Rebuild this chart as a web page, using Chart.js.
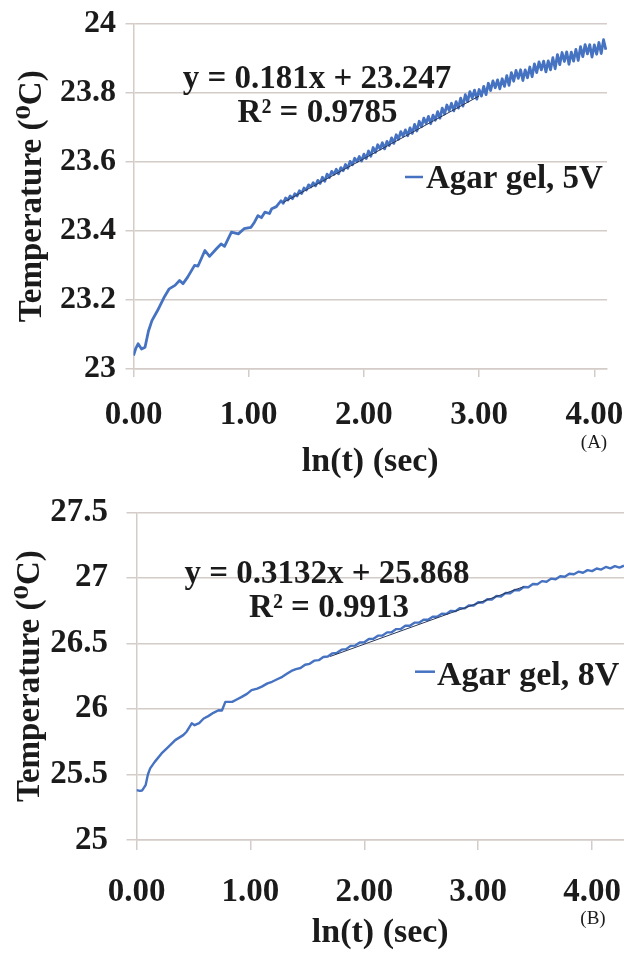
<!DOCTYPE html>
<html>
<head>
<meta charset="utf-8">
<script src="https://cdn.jsdelivr.net/npm/chart.js@4.4.1/dist/chart.umd.min.js"></script>
<style>
html, body { margin: 0; padding: 0; background: #fff; }
#wrap { position: relative; width: 624px; height: 955px; overflow: hidden; }
canvas { position: absolute; left: 0; }
#chartA { top: 0; }
#chartB { top: 490px; }
</style>
</head>
<body>
<div id="wrap">
  <canvas id="chartA" width="624" height="490"></canvas>
  <canvas id="chartB" width="624" height="465"></canvas>
</div>
<script>
// (A) agar gel, 5V : ln(t) vs temperature
const lnTimeA = [
  0.00,0.02,0.04,0.07,0.10,0.13,0.16,0.21,0.27,0.31,0.36,0.40,0.43,0.47,0.53,0.56,
  0.62,0.66,0.72,0.76,0.79,0.85,0.91,0.96,1.02,1.05,1.08,1.11,1.14,1.18,1.20,1.24,
  1.28,1.30,1.32,1.34,1.36,1.38,1.40,1.42,1.44,1.46,
  1.48,1.50,1.52,1.54,1.56,1.58,1.60,1.62,1.64,1.66,
  1.68,1.70,1.72,1.74,1.76,1.78,1.80,1.82,1.84,1.86,
  1.88,1.90,1.92,1.94,1.96,1.98,2.00,2.02,2.04,2.06,
  2.08,2.10,2.12,2.14,2.16,2.18,2.20,2.22,2.24,2.26,
  2.28,2.30,2.32,2.34,2.36,2.38,2.40,2.42,2.44,2.46,
  2.48,2.50,2.52,2.54,2.56,2.58,2.60,2.62,2.64,2.66,
  2.68,2.70,2.72,2.74,2.76,2.78,2.80,2.82,2.84,2.86,
  2.88,2.90,2.92,2.94,2.96,2.98,3.00,3.02,3.04,3.06,
  3.08,3.10,3.12,3.14,3.16,3.18,3.20,3.22,3.24,3.26,
  3.28,3.30,3.32,3.34,3.36,3.38,3.40,3.42,3.44,3.46,
  3.48,3.50,3.52,3.54,3.56,3.58,3.60,3.62,3.64,3.66,
  3.68,3.70,3.72,3.74,3.76,3.78,3.80,3.82,3.84,3.86,
  3.88,3.90,3.92,3.94,3.96,3.98,4.00,4.02,4.04,4.06,
  4.08,4.10
];
const tempA = [
  23.039,23.060,23.073,23.058,23.063,23.110,23.140,23.170,23.210,23.232,23.242,23.256,23.247,23.266,23.300,23.298,
  23.343,23.326,23.348,23.362,23.355,23.396,23.391,23.406,23.410,23.425,23.444,23.438,23.454,23.450,23.464,23.470,
  23.487,23.480,23.495,23.489,23.501,23.493,23.507,23.501,23.516,23.508,
  23.524,23.518,23.533,23.527,23.539,23.530,23.546,23.537,23.555,23.543,
  23.564,23.554,23.572,23.563,23.578,23.565,23.583,23.574,23.592,23.581,
  23.601,23.591,23.610,23.600,23.615,23.602,23.622,23.609,23.631,23.616,
  23.641,23.627,23.649,23.637,23.655,23.637,23.659,23.647,23.669,23.653,
  23.678,23.665,23.687,23.674,23.692,23.675,23.698,23.682,23.708,23.689,
  23.717,23.701,23.726,23.711,23.731,23.710,23.735,23.720,23.745,23.726,
  23.755,23.738,23.764,23.748,23.769,23.747,23.774,23.755,23.784,23.761,
  23.794,23.774,23.803,23.784,23.807,23.781,23.809,23.790,23.818,23.794,
  23.827,23.806,23.834,23.814,23.837,23.811,23.840,23.818,23.849,23.821,
  23.858,23.833,23.864,23.841,23.866,23.835,23.866,23.843,23.874,23.846,
  23.883,23.858,23.889,23.866,23.891,23.860,23.892,23.866,23.901,23.869,
  23.910,23.881,23.916,23.890,23.918,23.882,23.917,23.891,23.925,23.893,
  23.933,23.904,23.939,23.912,23.939,23.903,23.938,23.911,23.945,23.913,
  23.953,23.924
];
const trendXA = [1.30, 3.00];
const trendYA = [23.482, 23.790];

// (B) agar gel, 8V
const lnTimeB = [
  0.00,0.03,0.05,0.08,0.10,0.12,0.16,0.22,0.28,0.34,0.41,0.44,0.485,0.51,0.55,0.59,0.63,
  0.675,0.72,0.75,0.78,0.84,0.88,0.92,0.97,1.01,1.06,1.10,1.15,1.19,1.24,1.28,1.32,1.36,
  1.40,1.44,1.48,1.52,1.56,1.60,1.64,1.68,1.72,1.76,
  1.80,1.84,1.88,1.92,1.96,2.00,2.04,2.08,2.12,2.16,
  2.20,2.24,2.28,2.32,2.36,2.40,2.44,2.48,2.52,2.56,
  2.60,2.64,2.68,2.72,2.76,2.80,2.84,2.88,2.92,2.96,
  3.00,3.04,3.08,3.12,3.16,3.20,3.24,3.28,3.32,3.36,
  3.40,3.44,3.48,3.52,3.56,3.60,3.64,3.68,3.72,3.76,
  3.80,3.84,3.88,3.92,3.96,4.00,4.04,4.08,4.12,4.16,
  4.20,4.24,4.28
];
const tempB = [
  25.380,25.375,25.378,25.418,25.500,25.546,25.596,25.660,25.710,25.762,25.800,25.826,25.890,25.876,25.892,25.927,25.945,
  25.970,25.990,25.988,26.054,26.054,26.072,26.090,26.115,26.143,26.155,26.170,26.195,26.207,26.228,26.245,26.268,26.290,
  26.304,26.312,26.337,26.344,26.368,26.372,26.396,26.400,26.424,26.428,
  26.452,26.456,26.481,26.483,26.507,26.509,26.533,26.535,26.559,26.560,
  26.584,26.585,26.609,26.610,26.634,26.634,26.658,26.658,26.681,26.680,
  26.703,26.703,26.726,26.725,26.748,26.746,26.769,26.767,26.790,26.789,
  26.814,26.812,26.837,26.835,26.861,26.858,26.884,26.882,26.907,26.905,
  26.930,26.928,26.953,26.951,26.975,26.970,26.994,26.989,27.012,27.008,
  27.031,27.027,27.047,27.039,27.059,27.051,27.071,27.063,27.083,27.072,
  27.089,27.078,27.093
];
const trendXB = [1.70, 3.40];
const trendYB = [26.400, 26.933];

const serif = "'Liberation Serif', 'Times New Roman', 'DejaVu Serif', serif";
const ink = '#1b1b1b';
const gridCol = '#d3ccc8';
const blue = '#4672c2';

function pts(xs, ys) {
  return xs.map((x, i) => ({ x: x, y: ys[i] }));
}

// equation, legend and panel letter text
const notes = {
  id: 'notes',
  afterDraw(chart, args, o) {
    const ctx = chart.ctx;
    ctx.save();
    ctx.fillStyle = ink;
    ctx.textBaseline = 'alphabetic';
    o.texts.forEach(t => {
      ctx.font = t.font;
      ctx.textAlign = t.align || 'center';
      ctx.fillText(t.text, t.x, t.y);
    });
    ctx.strokeStyle = blue;
    ctx.lineWidth = 2.5;
    ctx.beginPath();
    ctx.moveTo(o.key.x0, o.key.y);
    ctx.lineTo(o.key.x1, o.key.y);
    ctx.stroke();
    ctx.restore();
  }
};

function build(id, xs, ys, tx, ty, s, noteOpts) {
  return new Chart(document.getElementById(id), {
    type: 'line',
    data: {
      datasets: [
        { data: pts(tx, ty), borderColor: '#27375a', borderWidth: 1, pointRadius: 0, order: 0 },
        { data: pts(xs, ys), borderColor: blue, borderWidth: s.lineW, pointRadius: 0,
          borderJoinStyle: 'round', order: 1 }
      ]
    },
    options: {
      responsive: false,
      animation: false,
      devicePixelRatio: 1,
      layout: { padding: { top: s.top, right: 624 - s.right, bottom: 0, left: 0 } },
      plugins: { legend: { display: false }, tooltip: { enabled: false }, notes: noteOpts },
      scales: {
        x: {
          type: 'linear', min: 0, max: s.xMax,
          ticks: {
            stepSize: 1, includeBounds: false, autoSkip: false, maxRotation: 0,
            padding: s.xPad, color: ink,
            font: { family: serif, size: 33, weight: 'bold' },
            callback: v => v.toFixed(2)
          },
          grid: { drawOnChartArea: false, drawTicks: true, tickLength: s.tick, color: gridCol, lineWidth: 1.5 },
          border: { display: true, color: gridCol, width: 1.5 },
          title: {
            display: true, text: 'ln(t) (sec)', color: ink,
            font: { family: serif, size: 34, weight: 'bold' },
            padding: { top: 0, bottom: s.xTitlePad }
          },
          afterFit: sc => { sc.height = s.H - s.bottom; sc.paddingLeft = 0; sc.paddingRight = 0; }
        },
        y: {
          min: s.yMin, max: s.yMax,
          ticks: {
            stepSize: s.yStep, padding: s.yPad, color: ink,
            font: { family: serif, size: s.yFont, weight: 'bold' },
            callback: v => String(+v.toFixed(1))
          },
          grid: { color: gridCol, lineWidth: 1.5, tickLength: s.tick },
          border: { display: true, color: gridCol, width: 1.5 },
          title: {
            display: true, text: 'Temperature (\u2070C)', color: ink,
            font: { family: serif, size: 33, weight: 'bold' },
            padding: { top: s.yTitlePad, bottom: 0 }
          },
          afterFit: sc => { sc.width = s.left; sc.paddingTop = 0; sc.paddingBottom = 0; }
        }
      }
    },
    plugins: [notes]
  });
}

const bold33 = "bold 33px " + serif;

build('chartA', lnTimeA, tempA, trendXA, trendYA,
  { H: 490, top: 23.5, bottom: 369, left: 133.5, right: 607, xMax: 4.11,
    yMin: 23, yMax: 24, yStep: 0.2, tick: 8, yPad: 9.5, xPad: 19, yFont: 32,
    xTitlePad: 7.6, yTitlePad: 13, lineW: 2.8 },
  {
    texts: [
      { text: 'y = 0.181x + 23.247', x: 317, y: 88, font: bold33 },
      { text: 'R\u00b2 = 0.9785', x: 317.5, y: 121.5, font: bold33 },
      { text: 'Agar gel, 5V', x: 426, y: 188, font: bold33, align: 'left' },
      { text: '(A)', x: 594, y: 448, font: "19px " + serif }
    ],
    key: { x0: 405, x1: 423, y: 177 }
  });

build('chartB', lnTimeB, tempB, trendXB, trendYB,
  { H: 465, top: 22.3, bottom: 350, left: 136.5, right: 624, xMax: 4.28,
    yMin: 25, yMax: 27.5, yStep: 0.5, tick: 10, yPad: 18.5, xPad: 23, yFont: 33,
    xTitlePad: 1.6, yTitlePad: 11, lineW: 2.4 },
  {
    texts: [
      { text: 'y = 0.3132x + 25.868', x: 327, y: 93.3, font: bold33 },
      { text: 'R\u00b2 = 0.9913', x: 329, y: 126.7, font: bold33 },
      { text: 'Agar gel, 8V', x: 437, y: 195, font: "bold 34px " + serif, align: 'left' },
      { text: '(B)', x: 593, y: 434, font: "19px " + serif }
    ],
    key: { x0: 415, x1: 435, y: 181.7 }
  });
</script>
</body>
</html>
